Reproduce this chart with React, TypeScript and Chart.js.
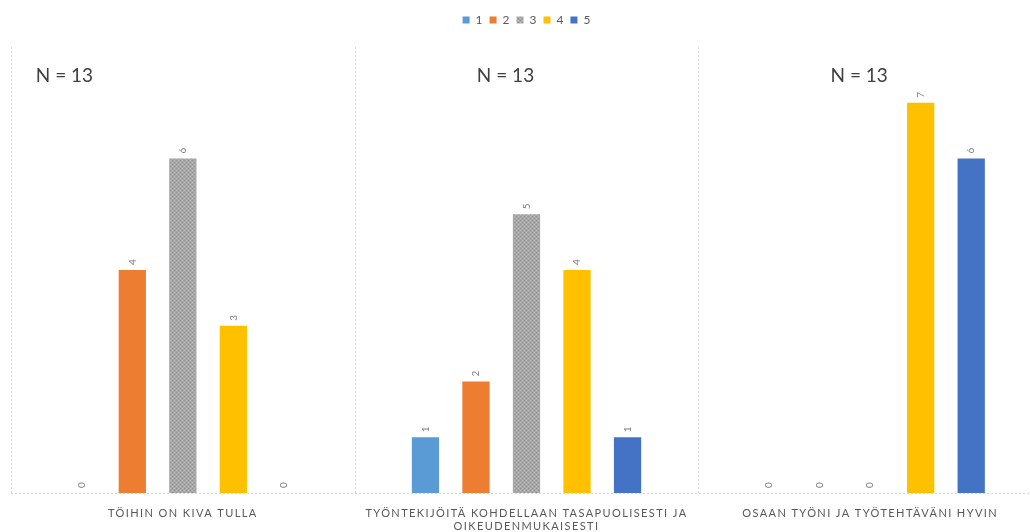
import React, { useEffect, useRef } from 'react';
import { Chart, registerables } from 'chart.js';

Chart.register(...registerables);

const categories: string[][] = [
  ['TÖIHIN ON KIVA TULLA'],
  ['TYÖNTEKIJÖITÄ KOHDELLAAN TASAPUOLISESTI JA', 'OIKEUDENMUKAISESTI'],
  ['OSAAN TYÖNI JA TYÖTEHTÄVÄNI HYVIN'],
];
const seriesNames = ['1', '2', '3', '4', '5'];
const series1 = [0, 1, 0];
const series2 = [4, 2, 0];
const series3 = [6, 5, 0];
const series4 = [3, 4, 7];
const series5 = [0, 1, 6];
const nLabels = ['N = 13', 'N = 13', 'N = 13'];
const colors = ['#5B9BD5', '#ED7D31', '#A5A5A5', '#FFC000', '#4472C4'];

const FONT = 'Lato, "Open Sans", sans-serif';

function makeGrayPattern(): CanvasPattern | string {
  const c = document.createElement('canvas');
  c.width = 4;
  c.height = 4;
  const g = c.getContext('2d');
  if (!g) return '#A5A5A5';
  g.fillStyle = '#A8A8A8';
  g.fillRect(0, 0, 4, 4);
  g.fillStyle = '#8E8E8E';
  g.fillRect(0, 0, 1, 1);
  g.fillRect(2, 2, 1, 1);
  g.fillStyle = '#BDBDBD';
  g.fillRect(2, 0, 1, 1);
  g.fillRect(0, 2, 1, 1);
  const p = g.createPattern(c, 'repeat');
  return p || '#A5A5A5';
}

const overlayPlugin = {
  id: 'overlay',
  beforeDatasetsDraw(chart: any) {
    const { ctx, chartArea } = chart;
    const xs = chart.scales.x;
    const n = categories.length;
    ctx.save();
    ctx.strokeStyle = '#D9D9D9';
    ctx.lineWidth = 1;
    ctx.setLineDash([2, 2]);
    const bounds: number[] = [chartArea.left];
    for (let i = 0; i < n - 1; i++) {
      bounds.push((xs.getPixelForValue(i) + xs.getPixelForValue(i + 1)) / 2);
    }
    bounds.push(chartArea.right);
    bounds.forEach((b) => {
      const px = Math.round(b) + 0.5;
      ctx.beginPath();
      ctx.moveTo(px, chartArea.top);
      ctx.lineTo(px, chartArea.bottom);
      ctx.stroke();
    });
    const by = Math.round(chartArea.bottom) + 0.5;
    ctx.beginPath();
    ctx.moveTo(chartArea.left, by);
    ctx.lineTo(chartArea.right, by);
    ctx.stroke();
    ctx.restore();
  },
  afterDatasetsDraw(chart: any) {
    const { ctx } = chart;
    ctx.save();
    ctx.fillStyle = '#7F7F7F';
    ctx.font = `10px ${FONT}`;
    chart.data.datasets.forEach((ds: any, di: number) => {
      const meta = chart.getDatasetMeta(di);
      meta.data.forEach((el: any, i: number) => {
        ctx.save();
        ctx.translate(el.x, el.y - 5);
        ctx.rotate(-Math.PI / 2);
        ctx.textAlign = 'left';
        ctx.textBaseline = 'middle';
        ctx.fillText(String(ds.data[i]), 0, 0);
        ctx.restore();
      });
    });
    ctx.restore();
  },
  afterDraw(chart: any) {
    const { ctx, chartArea } = chart;
    const xs = chart.scales.x;
    ctx.save();
    ctx.fillStyle = '#595959';
    ctx.font = `11px ${FONT}`;
    (ctx as any).letterSpacing = '1.4px';
    ctx.textAlign = 'center';
    ctx.textBaseline = 'middle';
    categories.forEach((lines, i) => {
      const cx = xs.getPixelForValue(i);
      lines.forEach((t, li) => {
        ctx.fillText(t, cx, chartArea.bottom + 20 + li * 13);
      });
    });
    (ctx as any).letterSpacing = '0px';
    ctx.fillStyle = '#404040';
    ctx.font = `19px ${FONT}`;
    const nOffsets = [-147, -21, -11];
    const nAlign = ['left', 'center', 'center'];
    nLabels.forEach((t, i) => {
      ctx.textAlign = nAlign[i] as CanvasTextAlign;
      ctx.fillText(t, xs.getPixelForValue(i) + nOffsets[i], chartArea.top + 29);
    });
    ctx.restore();
  },
};

export default function App() {
  const ref = useRef<HTMLCanvasElement | null>(null);
  useEffect(() => {
    if (!ref.current) return;
    const gray = makeGrayPattern();
    const values = [series1, series2, series3, series4, series5];
    const chart = new Chart(ref.current, {
      type: 'bar',
      data: {
        labels: categories.map((c) => c.join(' ')),
        datasets: seriesNames.map((name, i) => ({
          label: name,
          data: values[i],
          backgroundColor: i === 2 ? (gray as any) : colors[i],
          borderWidth: 0,
          categoryPercentage: 0.735,
          barPercentage: 0.54,
        })),
      },
      options: {
        animation: false,
        responsive: true,
        maintainAspectRatio: false,
        layout: { padding: { top: 7, left: 11, right: 0, bottom: 39 } },
        plugins: {
          legend: {
            position: 'top',
            labels: {
              boxWidth: 7,
              boxHeight: 7,
              padding: 7,
              color: '#595959',
              font: { size: 12, family: FONT },
            },
          },
          title: {
            display: true,
            text: '',
            weight: 500,
            padding: { top: 10, bottom: 0 },
            font: { size: 1, lineHeight: 1 },
          } as any,
          tooltip: { enabled: false },
        },
        scales: {
          x: {
            grid: { display: false, drawTicks: false },
            border: { display: false },
            ticks: { display: false },
          },
          y: {
            display: false,
            min: 0,
            max: 8,
          },
        },
      },
      plugins: [overlayPlugin],
    });
    return () => chart.destroy();
  }, []);

  return (
    <div style={{ position: 'fixed', left: 0, top: 0, width: 1030, height: 532, overflow: 'hidden', background: '#fff' }}>
      <div style={{ position: 'relative', width: 1042, height: 532 }}>
        <canvas ref={ref} />
      </div>
    </div>
  );
}
